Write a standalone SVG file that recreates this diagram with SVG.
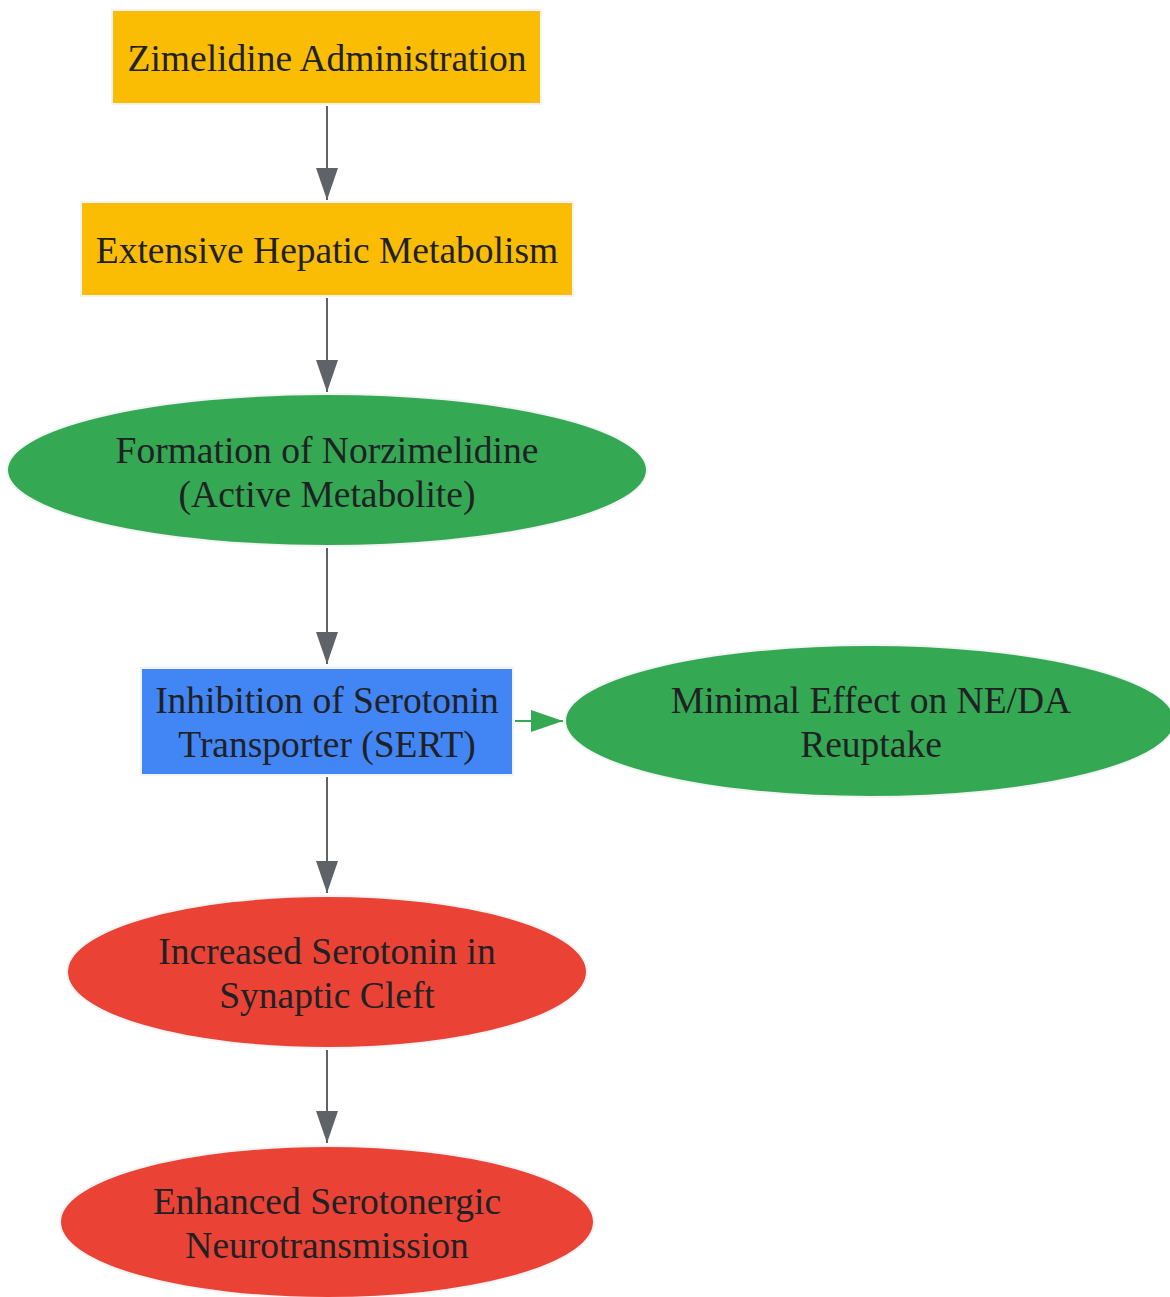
<svg xmlns="http://www.w3.org/2000/svg" width="1170" height="1297" viewBox="0 0 1170 1297">
<defs>
<style>
.n{stroke:#f1f3f4;stroke-width:2}
.y{fill:#fbbc04}.g{fill:#34a853}.b{fill:#4285f4}.r{fill:#ea4335}
text{font-family:"Liberation Serif","Times New Roman",serif;font-size:37.5px;fill:#202124;text-anchor:middle}
.e{stroke:#5f6368;stroke-width:2;fill:none}
.eg{stroke:#34a853;stroke-width:2;fill:none}
</style>
<marker id="ah" viewBox="0 0 32 22" refX="32" refY="11" markerWidth="32" markerHeight="22" markerUnits="userSpaceOnUse" orient="auto"><path d="M0,0L32,11L0,22Z" fill="#5f6368"/></marker>
<marker id="ahg" viewBox="0 0 32 22" refX="32" refY="11" markerWidth="32" markerHeight="22" markerUnits="userSpaceOnUse" orient="auto"><path d="M0,0L32,11L0,22Z" fill="#34a853"/></marker>
</defs>
<rect width="1170" height="1297" fill="#ffffff"/>
<g id="edges">
<path class="e" d="M327,106V200" marker-end="url(#ah)"/>
<path class="e" d="M327,298V392" marker-end="url(#ah)"/>
<path class="e" d="M327,548V664" marker-end="url(#ah)"/>
<path class="eg" d="M515,721H563" marker-end="url(#ahg)"/>
<path class="e" d="M327,777V893" marker-end="url(#ah)"/>
<path class="e" d="M327,1050V1143" marker-end="url(#ah)"/>
</g>
<g id="n1"><rect class="n y" x="112" y="10" width="429" height="94"/><text x="327" y="71">Zimelidine Administration</text></g>
<g id="n2"><rect class="n y" x="81" y="202" width="492" height="94"/><text x="327" y="263">Extensive Hepatic Metabolism</text></g>
<g id="n3"><ellipse class="n g" cx="327" cy="470" rx="320" ry="76"/><text x="327" y="463">Formation of Norzimelidine</text><text x="327" y="507">(Active Metabolite)</text></g>
<g id="n4"><rect class="n b" x="141" y="668" width="372" height="107"/><text x="327" y="713">Inhibition of Serotonin</text><text x="327" y="757">Transporter (SERT)</text></g>
<g id="n5"><ellipse class="n g" cx="870" cy="721" rx="305" ry="76"/><text x="871" y="713">Minimal Effect on NE/DA</text><text x="871" y="757">Reuptake</text></g>
<g id="n6"><ellipse class="n r" cx="327" cy="972" rx="260" ry="76"/><text x="327" y="964">Increased Serotonin in</text><text x="327" y="1008">Synaptic Cleft</text></g>
<g id="n7"><ellipse class="n r" cx="327" cy="1222" rx="267" ry="76"/><text x="327" y="1214">Enhanced Serotonergic</text><text x="327" y="1258">Neurotransmission</text></g>
</svg>
